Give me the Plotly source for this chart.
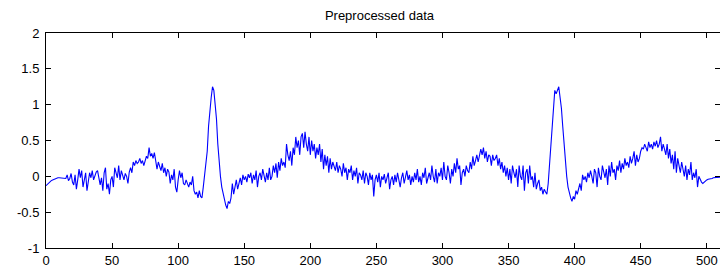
import plotly.graph_objects as go

title_text = "Preprocessed data"
y_values = [
    -0.13, -0.11, -0.09, -0.07, -0.06, -0.05, -0.04, -0.03, -0.03, -0.02,
    -0.02, -0.02, -0.02, -0.03, -0.02, -0.03, 0.02, -0.06, -0.03, 0.04,
    -0.08, -0.12, 0.02, -0.18, -0.05, 0.10, -0.02, 0.08, -0.15, -0.05,
    0.05, -0.20, -0.10, 0.05, -0.02, 0.08, -0.05, 0.02, 0.06, 0.08,
    -0.03, -0.12, -0.02, -0.20, 0.05, 0.12, -0.18, -0.10, -0.25, -0.05,
    0.00, -0.15, 0.12, 0.05, -0.02, 0.15, -0.05, 0.08, 0.00, -0.05,
    0.04, 0.00, -0.10, 0.06, 0.12, 0.05, 0.20, 0.15, 0.22, 0.18,
    0.20, 0.25, 0.18, 0.22, 0.15, 0.20, 0.28, 0.25, 0.40, 0.28,
    0.32, 0.25, 0.33, 0.22, 0.10, 0.20, 0.15, 0.08, 0.18, 0.05,
    0.12, 0.00, 0.10, 0.06, -0.10, 0.02, -0.05, 0.10, -0.15, -0.22,
    -0.05, 0.08, -0.02, 0.05, -0.10, -0.12, -0.05, -0.10, -0.15, -0.08,
    -0.12, 0.00, -0.20, -0.25, -0.22, -0.30, -0.20, -0.28, -0.30, -0.15,
    0.05, 0.20, 0.35, 0.70, 0.95, 1.10, 1.25, 1.20, 1.00, 0.80,
    0.45, 0.20, 0.00, -0.15, -0.25, -0.30, -0.40, -0.45, -0.35, -0.38,
    -0.30, -0.10, -0.25, -0.15, -0.05, -0.18, -0.10, -0.02, -0.12, 0.02,
    -0.05, 0.00, -0.08, 0.03, -0.02, 0.05, -0.10, 0.02, -0.05, 0.08,
    -0.15, 0.00, 0.05, -0.05, 0.10, 0.02, -0.08, 0.05, -0.05, 0.12,
    -0.05, 0.00, 0.15, 0.05, 0.18, -0.02, 0.20, 0.08, 0.25, 0.15,
    0.20, 0.12, 0.45, 0.30, 0.22, 0.35, 0.15, 0.40, 0.30, 0.55,
    0.40, 0.50, 0.30, 0.55, 0.60, 0.40, 0.62, 0.45, 0.35, 0.55,
    0.30, 0.50, 0.35, 0.45, 0.25, 0.40, 0.30, 0.45, 0.20, 0.38,
    0.10, 0.30, 0.15, 0.28, 0.05, 0.25, 0.10, 0.20, 0.15, 0.08,
    0.20, 0.05, 0.15, 0.10, 0.00, 0.18, 0.05, 0.12, -0.05, 0.10,
    0.05, 0.15, -0.05, 0.08, 0.00, 0.12, -0.10, 0.05, 0.02, -0.05,
    0.08, -0.10, 0.05, 0.00, -0.12, 0.05, -0.05, 0.02, -0.28, -0.05,
    0.02, -0.08, 0.05, -0.15, 0.00, -0.05, 0.03, -0.10, -0.02, 0.05,
    -0.18, -0.05, 0.00, -0.12, 0.02, -0.08, 0.05, -0.05, -0.15, -0.02,
    0.05, -0.10, 0.00, 0.08, -0.05, 0.02, -0.12, 0.00, -0.08, 0.05,
    -0.05, 0.10, -0.08, 0.00, -0.12, 0.05, -0.02, 0.12, -0.10, 0.00,
    0.05, -0.05, 0.15, 0.00, -0.08, 0.10, -0.10, 0.05, 0.00, 0.12,
    -0.05, 0.20, 0.00, -0.05, 0.15, 0.05, -0.10, 0.10, 0.00, 0.18,
    0.05, 0.25, 0.10, 0.15, -0.12, 0.05, 0.10, 0.00, 0.15, 0.08,
    0.05, 0.20, 0.10, 0.28, 0.15, 0.22, 0.30, 0.20, 0.32, 0.38,
    0.30, 0.40, 0.25, 0.35, 0.20, 0.30, 0.28, 0.15, 0.30, 0.22,
    0.25, 0.30, 0.15, 0.25, 0.10, 0.20, 0.05, 0.15, 0.00, 0.12,
    -0.05, 0.10, -0.10, 0.15, 0.05, -0.02, 0.10, -0.15, 0.15, 0.00,
    -0.05, 0.15, -0.20, 0.05, 0.10, -0.10, 0.15, -0.05, 0.00, -0.15,
    0.05, -0.18, -0.10, -0.05, -0.20, -0.15, -0.25, -0.18, -0.22, -0.25,
    -0.10, 0.15, 0.45, 0.75, 1.00, 1.20, 1.15, 1.22, 1.25, 1.10,
    0.95, 0.70, 0.45, 0.20, 0.00, -0.15, -0.25, -0.30, -0.35, -0.28,
    -0.32, -0.20, -0.25, -0.15, -0.10, -0.20, 0.02, -0.05, 0.00, -0.08,
    0.05, -0.02, 0.08, 0.00, -0.10, 0.10, 0.05, -0.15, 0.12, 0.00,
    -0.05, 0.15, 0.05, -0.02, 0.10, -0.12, 0.15, 0.00, 0.20, 0.05,
    0.10, -0.05, 0.15, 0.08, 0.22, 0.05, 0.18, 0.10, 0.25, 0.15,
    0.20, 0.12, 0.28, 0.18, 0.25, 0.35, 0.15, 0.30, 0.20, 0.25,
    0.35, 0.40, 0.38, 0.45, 0.40, 0.35, 0.48, 0.40, 0.45, 0.38,
    0.48, 0.42, 0.50, 0.40, 0.45, 0.55, 0.35, 0.45, 0.38, 0.30,
    0.45, 0.25, 0.38, 0.18, 0.30, 0.10, 0.35, 0.05, 0.25, 0.15,
    0.05, 0.20, 0.08, 0.00, 0.15, -0.05, 0.10, 0.02, 0.20, -0.05,
    0.05, -0.02, 0.10, -0.15, 0.00, -0.05, -0.08, -0.10, -0.08, -0.06,
    -0.05, -0.04, -0.04, -0.03, -0.03, -0.02, -0.02, -0.02, -0.01, -0.01,
    -0.01, -0.01,
]
x_values = list(range(len(y_values)))

x_ticks = [0, 50, 100, 150, 200, 250, 300, 350, 400, 450, 500]
y_ticks = [-1, -0.5, 0, 0.5, 1, 1.5, 2]
y_tick_labels = ["-1", "-0.5", "0", "0.5", "1", "1.5", "2"]

fig = go.Figure()
fig.add_trace(go.Scatter(x=x_values, y=y_values, mode="lines",
                         line=dict(color="#0000ff", width=1.1),
                         showlegend=False, hoverinfo="skip"))

axis_common = dict(showline=True, linecolor="black", linewidth=1, mirror="ticks",
                   ticks="inside", ticklen=5, tickcolor="black", tickwidth=1,
                   showgrid=False, zeroline=False,
                   tickfont=dict(family="Liberation Sans, Arial, sans-serif", size=13, color="black"))

fig.update_layout(
    width=720, height=268,
    margin=dict(l=46, r=0, t=33, b=20, autoexpand=False),
    paper_bgcolor="white", plot_bgcolor="white",
    title=dict(text=title_text, x=0.527, xanchor="center", y=0.944, yanchor="middle",
               font=dict(family="Liberation Sans, Arial, sans-serif", size=13, color="black")),
    xaxis=dict(range=[0, 510], tickvals=x_ticks, ticklabelstandoff=0, **axis_common),
    yaxis=dict(range=[-1, 2], tickvals=y_ticks, ticktext=y_tick_labels, ticklabelstandoff=3, **axis_common),
)

fig.write_html("out.html", config={"displayModeBar": False},
               post_script="document.body.style.margin='0';document.body.style.overflow='hidden';")
